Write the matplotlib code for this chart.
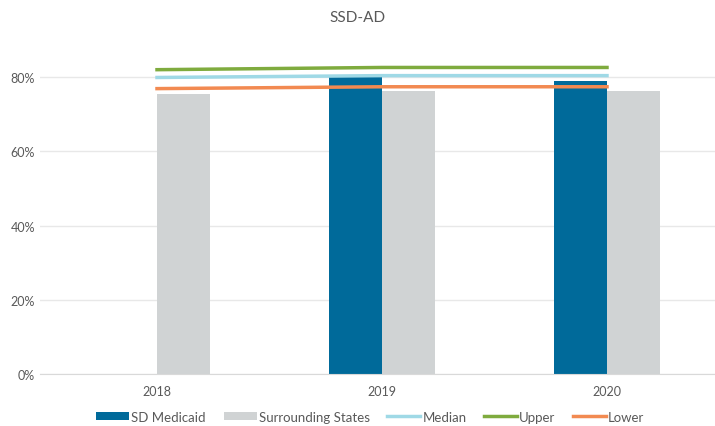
import numpy as np
import matplotlib
matplotlib.use("Agg")
import matplotlib.pyplot as plt
from matplotlib.ticker import FuncFormatter

# data
years = ["2018", "2019", "2020"]
sd_medicaid = [np.nan, 0.803, 0.789]
surrounding = [0.754, 0.763, 0.763]
median = [0.799, 0.804, 0.804]
upper = [0.820, 0.826, 0.826]
lower = [0.769, 0.774, 0.774]

plt.rcParams['font.family'] = ['Lato', 'DejaVu Sans']
txt = "#595959"

fig = plt.figure(figsize=(7.15, 4.27), dpi=100)
ax = fig.add_axes([40 / 715, (427 - 375) / 427, 675 / 715, 334 / 427])

x = np.arange(len(years))
w = 0.237
b1 = ax.bar(x - w / 2, sd_medicaid, w, color="#006a9a", label="SD Medicaid", zorder=2)
b2 = ax.bar(x + w / 2, surrounding, w, color="#d0d3d4", label="Surrounding States", zorder=2)
l1, = ax.plot(x, median, color="#9fd9e6", lw=2.5, label="Median", zorder=3)
l2, = ax.plot(x, upper, color="#7fab3e", lw=2.5, label="Upper", zorder=3)
l3, = ax.plot(x, lower, color="#f28a51", lw=2.5, label="Lower", zorder=3)

ax.set_xlim(-0.52, 2.48)
ax.set_ylim(0, 0.9)
ax.set_yticks([0, 0.2, 0.4, 0.6, 0.8])
ax.yaxis.set_major_formatter(FuncFormatter(lambda v, p: f"{v:.0%}"))
ax.set_xticks(x)
ax.set_xticklabels(years)
ax.grid(axis="y", color="#e8e8e8", lw=1, zorder=0)
for s in ["top", "right", "left"]:
    ax.spines[s].set_visible(False)
ax.spines["bottom"].set_color("#d9d9d9")
ax.tick_params(axis="both", length=0, colors=txt, labelsize=9)
ax.tick_params(axis="x", pad=8)

fig.suptitle("SSD-AD", y=0.975, fontsize=11, color=txt)
fig.legend([b1, b2, l1, l2, l3],
           ["SD Medicaid", "Surrounding States", "Median", "Upper", "Lower"],
           loc="lower center", ncol=5, frameon=False, fontsize=9.5,
           bbox_to_anchor=(0.518, -0.02), handlelength=2.5, handleheight=0.5,
           handletextpad=0.15, columnspacing=1.35, labelcolor=txt)

fig.savefig("out.png", dpi=100)
